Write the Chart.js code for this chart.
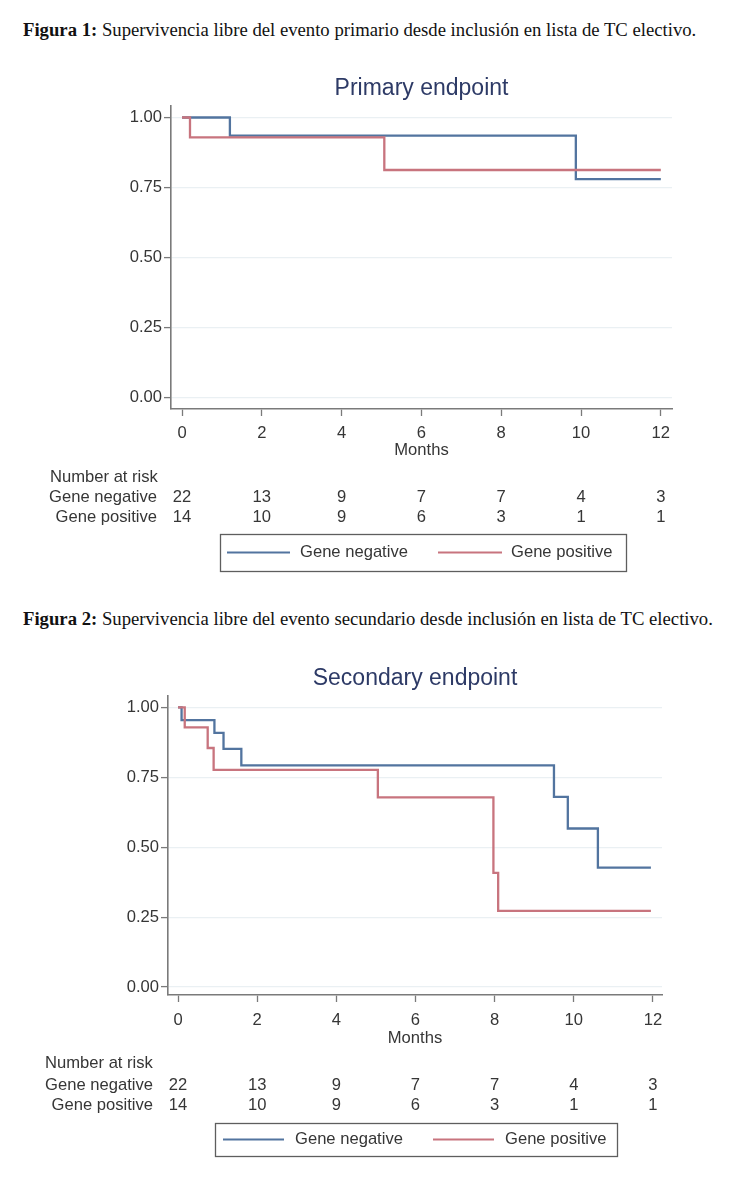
<!DOCTYPE html>
<html><head><meta charset="utf-8">
<script src="https://cdn.jsdelivr.net/npm/chart.js@4"></script>
<style>
html,body{margin:0;padding:0;background:#fff;}
body{width:750px;height:1200px;position:relative;overflow:hidden;}
.cap{position:absolute;left:23px;font-family:"Liberation Serif","Times New Roman",serif;font-size:18.7px;line-height:22px;color:#111;white-space:nowrap;}
.cap b{font-weight:bold;}
canvas{position:absolute;left:0;}
</style></head><body>
<div class="cap" style="top:19px"><b>Figura 1:</b> Supervivencia libre del evento primario desde inclusión en lista de TC electivo.</div>
<div class="cap" style="top:608px"><b>Figura 2:</b> Supervivencia libre del evento secundario desde inclusión en lista de TC electivo.</div>
<canvas id="c1" width="750" height="530" style="top:60px"></canvas>
<canvas id="c2" width="750" height="540" style="top:640px"></canvas>
<script>
// ---- data ----
const xTicks = [0, 2, 4, 6, 8, 10, 12];
const yTicks = [0, 0.25, 0.5, 0.75, 1];
const seriesNames = ['Gene negative', 'Gene positive'];
const riskNeg = [22, 13, 9, 7, 7, 4, 3];
const riskPos = [14, 10, 9, 6, 3, 1, 1];

const primaryNegTime = [0, 1.2, 9.87, 12.0];
const primaryNegSurv = [1, 0.935, 0.78, 0.78];
const primaryPosTime = [0, 0.2, 5.07, 12.0];
const primaryPosSurv = [1, 0.929, 0.8125, 0.8125];

const secondaryNegTime = [0, 0.09, 0.92, 1.15, 1.6, 9.5, 9.85, 10.61, 11.95];
const secondaryNegSurv = [1, 0.955, 0.909, 0.852, 0.793, 0.68, 0.567, 0.427, 0.427];
const secondaryPosTime = [0, 0.17, 0.75, 0.9, 5.05, 7.97, 8.09, 11.95];
const secondaryPosSurv = [1, 0.929, 0.855, 0.777, 0.678, 0.408, 0.272, 0.272];

// ---- styling ----
const BLUE = '#52749f';
const RED = '#c8747e';
const AXIS = '#7a7a7a';
const GRID = '#eaf0f3';
const TXT = '#363636';
const FONT = '"Liberation Sans", Arial, sans-serif';
const FS = 16.6;

function pts(t, s) { return t.map((v, i) => ({x: v, y: s[i]})); }

function makeChart(id, title, negT, negS, posT, posS, g) {
  const canvas = document.getElementById(id);
  const H = canvas.height;
  const overlay = {
    id: 'km-extra',
    afterDraw(chart) {
      const ctx = chart.ctx, ca = chart.chartArea, xs = chart.scales.x;
      ctx.save();
      // title
      ctx.fillStyle = '#2d3a66';
      ctx.font = '23px ' + FONT;
      ctx.textAlign = 'center';
      ctx.textBaseline = 'middle';
      ctx.fillText(title, (ca.left + ca.right) / 2, g.titleY);
      // number at risk
      ctx.fillStyle = TXT;
      ctx.font = FS + 'px ' + FONT;
      ctx.textAlign = 'left';
      ctx.fillText('Number at risk', g.riskLeft, g.riskHeadY);
      ctx.textAlign = 'right';
      ctx.fillText(seriesNames[0], g.riskRight, g.riskY[0]);
      ctx.fillText(seriesNames[1], g.riskRight, g.riskY[1]);
      ctx.textAlign = 'center';
      xTicks.forEach((t, i) => {
        const px = xs.getPixelForValue(t);
        ctx.fillText(String(riskNeg[i]), px, g.riskY[0]);
        ctx.fillText(String(riskPos[i]), px, g.riskY[1]);
      });
      // legend
      const L = g.legend;
      ctx.strokeStyle = '#5e5e5e';
      ctx.lineWidth = 1.3;
      ctx.strokeRect(L.x0 + 0.5, L.y0 + 0.5, L.x1 - L.x0, L.y1 - L.y0);
      const cy = (L.y0 + L.y1) / 2;
      ctx.lineWidth = 2.2;
      ctx.strokeStyle = BLUE;
      ctx.beginPath(); ctx.moveTo(L.l1[0], cy); ctx.lineTo(L.l1[1], cy); ctx.stroke();
      ctx.strokeStyle = RED;
      ctx.beginPath(); ctx.moveTo(L.l2[0], cy); ctx.lineTo(L.l2[1], cy); ctx.stroke();
      ctx.fillStyle = TXT;
      ctx.textAlign = 'left';
      ctx.fillText(seriesNames[0], L.t1, cy);
      ctx.fillText(seriesNames[1], L.t2, cy);
      ctx.restore();
    }
  };
  return new Chart(canvas, {
    type: 'line',
    data: {
      datasets: [
        {label: seriesNames[1], data: pts(posT, posS), borderColor: RED, borderWidth: 2.3, stepped: 'before', pointRadius: 0, fill: false},
        {label: seriesNames[0], data: pts(negT, negS), borderColor: BLUE, borderWidth: 2.3, stepped: 'before', pointRadius: 0, fill: false}
      ]
    },
    options: {
      responsive: false,
      animation: false,
      events: [],
      layout: {padding: {top: g.top, left: 0, right: 750 - g.right, bottom: H - g.bottom - g.axisH}},
      plugins: {legend: {display: false}, title: {display: false}, tooltip: {enabled: false}},
      scales: {
        x: {
          type: 'linear', min: g.xMin, max: g.xMax,
          afterBuildTicks(s) { s.ticks = xTicks.map(v => ({value: v})); },
          afterFit(s) { s.height = g.axisH; },
          grid: {drawOnChartArea: false, drawTicks: true, tickLength: 7, tickColor: AXIS, tickWidth: 1.3},
          border: {display: true, color: AXIS, width: 1.6},
          ticks: {padding: g.xPad, color: TXT, font: {family: FONT, size: FS}, maxRotation: 0, autoSkip: false},
          title: {display: true, text: 'Months', color: TXT, padding: {top: 0, bottom: 0}, font: {family: FONT, size: FS, lineHeight: 1}}
        },
        y: {
          type: 'linear', min: g.yMin, max: g.yMax,
          afterBuildTicks(s) { s.ticks = yTicks.map(v => ({value: v})); },
          afterFit(s) { s.width = g.left; },
          grid: {drawOnChartArea: true, color: GRID, lineWidth: 1.2, drawTicks: true, tickLength: 7, tickColor: AXIS, tickWidth: 1.3},
          border: {display: true, color: AXIS, width: 1.6},
          ticks: {padding: 2, color: TXT, font: {family: FONT, size: FS}, callback: v => v.toFixed(2)}
        }
      }
    },
    plugins: [overlay]
  });
}

makeChart('c1', 'Primary endpoint', primaryNegTime, primaryNegSurv, primaryPosTime, primaryPosSurv, {
  top: 46, left: 171, right: 672, bottom: 349, axisH: 50, xPad: 7.4,
  xMin: -0.276, xMax: 12.28, yMin: -0.041, yMax: 1.041,
  titleY: 29, riskHeadY: 417, riskY: [437, 457], riskLeft: 50, riskRight: 157,
  legend: {x0: 220, x1: 626, y0: 474, y1: 511, l1: [227, 290], t1: 300, l2: [438, 502], t2: 511}
});

makeChart('c2', 'Secondary endpoint', secondaryNegTime, secondaryNegSurv, secondaryPosTime, secondaryPosSurv, {
  top: 56, left: 168, right: 662, bottom: 355, axisH: 52, xPad: 8.4,
  xMin: -0.253, xMax: 12.23, yMin: -0.0286, yMax: 1.041,
  titleY: 39, riskHeadY: 423, riskY: [445, 465], riskLeft: 45, riskRight: 153,
  legend: {x0: 215, x1: 617, y0: 483, y1: 516, l1: [223, 284], t1: 295, l2: [433, 494], t2: 505}
});
</script>
</body></html>
